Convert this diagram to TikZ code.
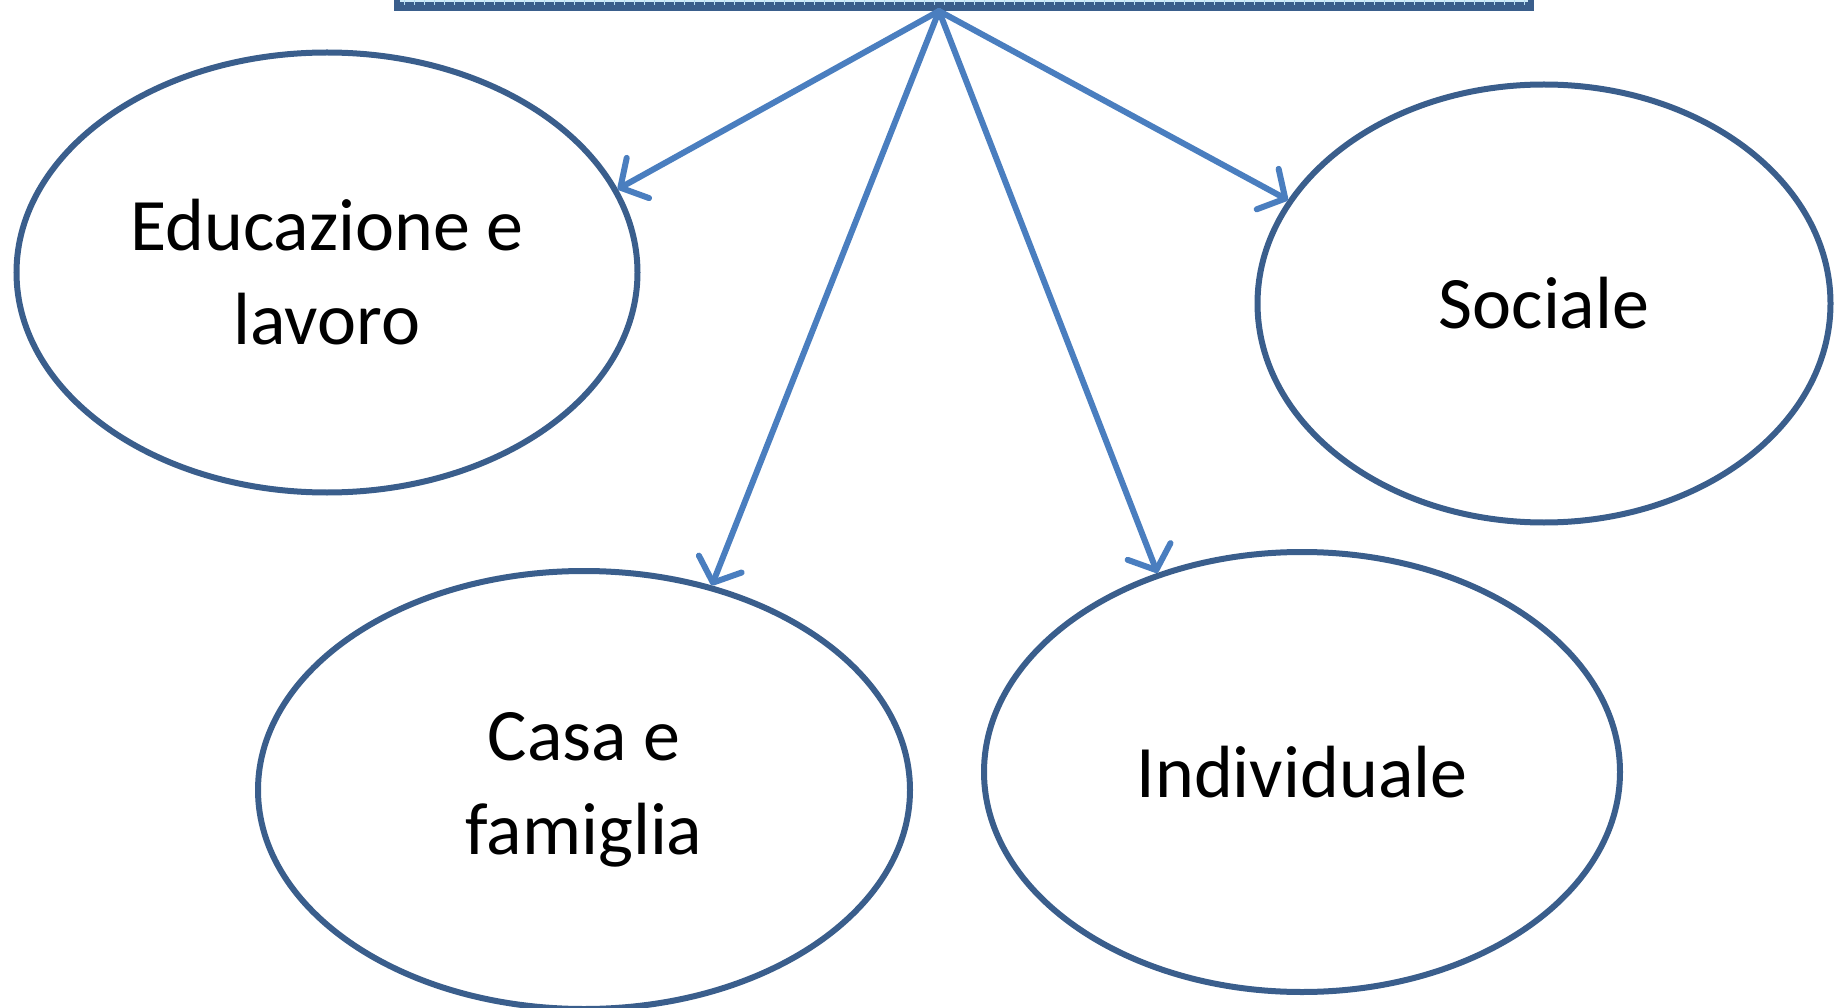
\documentclass[tikz,border=0pt]{standalone}
\usepackage{fontspec}
\setmainfont{Carlito}
\usetikzlibrary{arrows.meta,shapes.geometric}
\definecolor{rimblue}{HTML}{3A5E8C}
\definecolor{linkblue}{HTML}{4A7EBF}
\definecolor{boxfill}{HTML}{CFEBFA}
\definecolor{boxgrid}{HTML}{B4DCF2}
\tikzset{
  area/.style={ellipse, draw=rimblue, line width=6pt, inner sep=0pt,
    align=center, font=\fontsize{74}{94}\selectfont},
  link/.style={draw=linkblue, line width=6pt, line cap=round,
    -{Straight Barb[length=20pt,width=46pt,line width=6pt,round]}},
}
\begin{document}
\begin{tikzpicture}[x=1pt,y=-1pt]
\useasboundingbox (0,0) rectangle (1834,1008);
\clip (0,0) rectangle (1834,1008);
% header box, mostly above the visible area
\node[draw=rimblue, fill=boxfill, line width=6pt, minimum width=1134pt,
      minimum height=80pt, inner sep=0pt, anchor=south west] (top) at (394,8) {};
\foreach \gx in {404,414,...,1524}
  \draw[boxgrid, line width=0.5pt] (\gx,-40) -- (\gx,5);
\draw[rimblue, line width=6pt] (top.south west) -- (top.south east);
\coordinate (hub) at (939,11);

% the four areas
\node[area, minimum width=621pt, minimum height=440pt] (edu) at (327,272.5) {Educazione e\\lavoro};
\node[area, minimum width=573pt, minimum height=438pt] (soc) at (1544,303.5) {Sociale};
\node[area, minimum width=652pt, minimum height=438pt] (casa) at (584,790) {Casa e\\famiglia};
\node[area, minimum width=636pt, minimum height=440pt] (ind) at (1302,772) {Individuale};

% connectors
\draw[link] (hub) -- (edu.16);
\draw[link] (hub) -- (soc.158.6);
\draw[link] (hub) -- (casa.58);
\draw[link] (hub) -- (ind.126.1);
\end{tikzpicture}
\end{document}
